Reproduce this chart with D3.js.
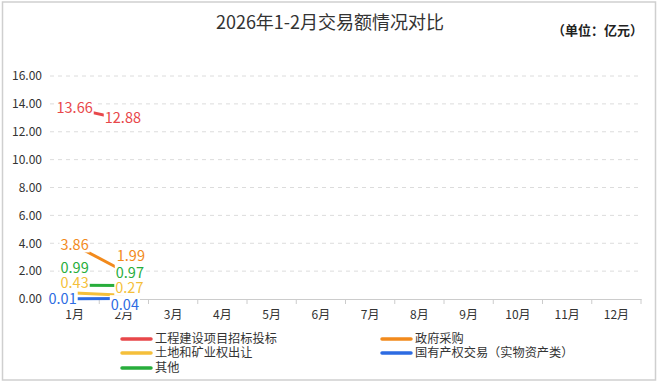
<!DOCTYPE html>
<html><head><meta charset="utf-8">
<script src="https://cdn.jsdelivr.net/npm/d3@7/dist/d3.min.js"></script>
<style>
html,body{margin:0;padding:0;background:#fff;}
svg{display:block;font-family:"Noto Sans CJK SC","Noto Sans",sans-serif;}
</style></head>
<body><svg id="c" width="659" height="384"></svg>
<script>
const months = ["1月","2月","3月","4月","5月","6月","7月","8月","9月","10月","11月","12月"];
const seriesNames = ["工程建设项目招标投标","政府采购","土地和矿业权出让","国有产权交易（实物资产类）","其他"];
const engineering = [13.66, 12.88];
const procurement = [3.86, 1.99];
const land = [0.43, 0.27];
const stateAssets = [0.01, 0.04];
const others = [0.99, 0.97];
const yTicks = [0,2,4,6,8,10,12,14,16];
const colors = ["#e8474a","#f28a1c","#f5bf3a","#2d6be2","#27ad3b"];
// label nudges (px) to avoid overlap, [month1, month2]
const labelDx = [[0,-1],[0,7],[0,5.5],[-12,1],[0,6]];
const labelDy = [[-1,-2],[0,-15.5],[-10,-7],[-0.5,6.5],[-17,-12.5]];

const values = [engineering, procurement, land, stateAssets, others];
const svg = d3.select("#c");

svg.append("rect").attr("x",2.5).attr("y",2).attr("width",653).attr("height",378)
  .attr("fill","#fff").attr("stroke","#cfcfcf").attr("stroke-width",1.5);

svg.append("text").attr("x",330).attr("y",29).attr("text-anchor","middle")
  .attr("font-size",18).attr("fill","#333").text("2026年1-2月交易额情况对比");
svg.append("text").attr("x",643).attr("y",35).attr("text-anchor","end")
  .attr("font-size",13).attr("font-weight","bold").attr("fill","#222").text("（单位：亿元）");

const x = d3.scaleBand().domain(months).range([50,641]);
const y = d3.scaleLinear().domain([0,16]).range([299,76]);

// grid
svg.append("g").selectAll("line").data(yTicks.filter(d=>d>0)).join("line")
  .attr("x1",50).attr("x2",641).attr("y1",d=>y(d)).attr("y2",d=>y(d))
  .attr("stroke","#dcdcdc").attr("stroke-dasharray","4,4");

// y axis labels
const ya = svg.append("g").attr("transform","translate(50,0)")
  .call(d3.axisLeft(y).tickValues(yTicks).tickFormat(d3.format(".2f")).tickSize(0).tickPadding(8));
ya.select(".domain").remove();
ya.selectAll("text").attr("font-size",12).attr("fill","#333").attr("font-family","'Noto Sans CJK SC',sans-serif");

// x axis
const xa = svg.append("g").attr("transform","translate(0,299)")
  .call(d3.axisBottom(x).tickSize(0).tickPadding(11));
xa.select(".domain").attr("stroke","#cccccc");
xa.selectAll("text").attr("font-size",12).attr("fill","#333").attr("font-family","'Noto Sans CJK SC',sans-serif");
const bounds = months.map(m=>x(m)).concat([x.range()[1]]);
xa.append("g").selectAll("line").data(bounds).join("line")
  .attr("x1",d=>d).attr("x2",d=>d).attr("y1",0).attr("y2",5).attr("stroke","#cccccc");

// lines
const cx = i => x(months[i]) + x.bandwidth()/2;
const line = d3.line().x((d,i)=>cx(i)).y(d=>y(d));
svg.append("g").selectAll("path").data(values).join("path")
  .attr("d",d=>line(d)).attr("fill","none")
  .attr("stroke",(d,i)=>colors[i]).attr("stroke-width",3).attr("stroke-linejoin","round");

// labels
const lg = svg.append("g");
values.forEach((vals,s)=>{
  vals.forEach((v,i)=>{
    const g = lg.append("g").attr("transform",`translate(${cx(i)+labelDx[s][i]},${y(v)+labelDy[s][i]})`);
    const t = g.append("text").attr("text-anchor","middle").attr("dy","0.36em")
      .attr("font-size",14.5).attr("fill",colors[s]).text(v.toFixed(2));
    const b = t.node().getBBox();
    g.insert("rect","text").attr("x",b.x-1).attr("y",b.y+2).attr("width",b.width+2).attr("height",b.height-4)
      .attr("fill","#fff");
  });
});

// legend
const legPos = [[122,339],[382,339],[122,353],[382,353],[122,368]];
const leg = svg.append("g");
seriesNames.forEach((n,i)=>{
  const [lx,ly] = legPos[i];
  leg.append("line").attr("x1",lx).attr("x2",lx+29).attr("y1",ly).attr("y2",ly)
    .attr("stroke",colors[i]).attr("stroke-width",3.5).attr("stroke-linecap","round");
  leg.append("text").attr("x",lx+33).attr("y",ly).attr("dy","0.36em")
    .attr("font-size",12.2).attr("fill","#333").text(n);
});
</script></body></html>
